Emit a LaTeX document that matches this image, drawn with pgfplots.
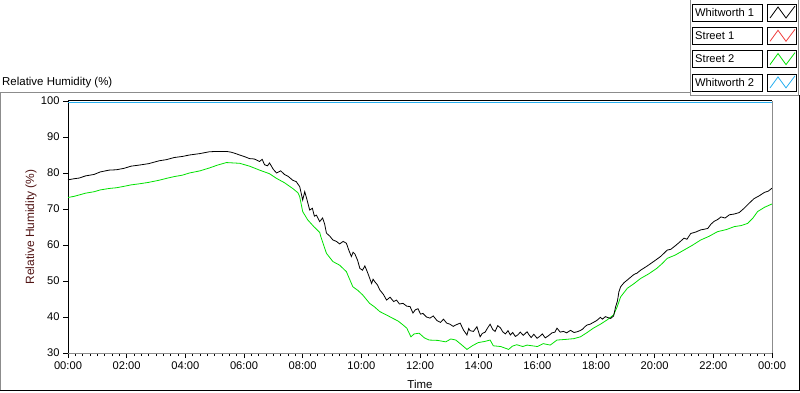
\documentclass[border=0pt]{standalone}
\usepackage{pgfplots}
\pgfplotsset{compat=1.18}
\usepackage{fontspec}
\setmainfont{Liberation Sans}
\definecolor{lvgreen}{RGB}{0,225,0}
\definecolor{lvblue}{RGB}{40,175,240}
\definecolor{lvred}{RGB}{240,60,60}
\definecolor{lvgray}{RGB}{140,140,140}
\definecolor{lvmaroon}{RGB}{80,20,20}

\pgfplotstableread{
t v
0.00 78.1
0.20 78.4
0.38 78.6
0.60 79.2
0.89 79.6
1.10 80.3
1.40 80.8
1.65 80.9
1.91 81.3
2.15 81.9
2.43 82.2
2.75 82.6
3.11 83.4
3.35 83.7
3.62 84.3
3.90 84.6
4.14 85.0
4.50 85.4
4.82 85.9
5.10 86.0
5.40 86.0
5.55 85.8
5.68 85.5
5.85 85.0
6.00 84.6
6.19 84.0
6.35 83.9
6.53 83.2
6.62 83.8
6.70 82.3
6.80 82.0
6.87 82.8
7.00 81.0
7.11 80.0
7.25 80.6
7.38 79.6
7.50 79.1
7.66 78.0
7.78 77.6
7.90 76.2
7.96 74.0
8.00 72.5
8.07 74.8
8.12 73.4
8.24 69.7
8.33 70.2
8.40 68.0
8.47 68.3
8.58 66.5
8.68 67.5
8.75 65.8
8.81 63.3
8.92 62.5
9.03 61.4
9.15 61.0
9.26 60.3
9.38 61.0
9.49 60.5
9.58 58.4
9.66 56.8
9.72 58.0
9.78 57.5
9.87 55.8
9.95 53.5
10.04 53.0
10.12 54.2
10.22 52.2
10.35 49.3
10.40 50.5
10.46 49.8
10.55 48.9
10.63 47.5
10.75 46.3
10.86 44.7
10.98 45.5
11.10 44.3
11.20 44.7
11.30 43.6
11.42 43.8
11.55 43.0
11.66 42.9
11.76 41.1
11.84 42.0
11.93 42.3
12.02 40.8
12.10 41.0
12.22 40.0
12.34 39.7
12.45 40.3
12.58 39.0
12.70 38.5
12.80 39.4
12.91 38.3
13.02 38.0
13.13 37.4
13.25 37.9
13.37 38.3
13.48 36.4
13.60 35.0
13.66 36.8
13.71 36.2
13.82 36.0
13.94 37.3
14.05 34.5
14.12 35.4
14.22 35.8
14.30 36.9
14.39 38.0
14.48 36.5
14.56 36.0
14.65 37.6
14.74 37.0
14.82 35.9
14.91 35.3
15.00 36.2
15.08 35.0
15.16 35.7
15.25 34.6
15.33 35.0
15.42 35.8
15.52 34.9
15.65 35.9
15.72 35.0
15.79 34.3
15.88 35.2
15.99 34.1
16.08 34.6
16.17 35.3
16.27 34.2
16.38 34.8
16.50 35.6
16.60 35.8
16.67 36.9
16.78 35.8
16.89 36.0
17.00 35.6
17.13 36.3
17.25 35.7
17.36 35.9
17.45 36.2
17.54 36.6
17.62 37.3
17.70 37.8
17.80 38.0
17.91 38.5
18.02 39.0
18.15 39.9
18.22 39.4
18.32 40.1
18.42 39.8
18.50 39.6
18.60 40.3
18.67 42.9
18.73 44.4
18.78 47.0
18.84 48.4
18.95 49.5
19.10 50.5
19.29 51.8
19.40 52.2
19.52 53.0
19.75 54.2
19.98 55.5
20.20 56.8
20.43 58.6
20.55 58.8
20.72 59.9
20.85 60.8
21.00 61.9
21.10 61.6
21.23 63.2
21.40 63.6
21.57 64.2
21.70 64.4
21.81 64.6
21.92 65.8
22.03 66.6
22.15 67.1
22.26 67.8
22.40 67.5
22.55 68.4
22.71 68.6
22.88 69.0
23.05 70.2
23.22 71.6
23.39 72.9
23.55 73.6
23.74 74.6
23.88 75.0
24.00 75.8
}\whitworthA

\pgfplotstableread{
t v
0.00 73.2
0.20 73.5
0.38 73.9
0.60 74.4
0.89 74.8
1.10 75.3
1.40 75.7
1.65 75.9
1.91 76.3
2.15 76.7
2.43 77.0
2.75 77.4
3.11 78.0
3.35 78.5
3.62 79.0
3.90 79.4
4.14 80.0
4.50 80.6
4.82 81.4
5.10 82.2
5.40 82.9
5.85 82.7
6.19 81.9
6.53 80.8
6.87 79.8
7.11 78.5
7.38 77.3
7.66 75.7
7.84 74.5
7.90 73.4
8.00 69.3
8.17 67.0
8.38 65.1
8.58 63.5
8.62 62.3
8.81 57.7
9.03 55.4
9.26 54.4
9.49 52.6
9.60 50.5
9.71 48.4
9.88 47.4
10.05 46.1
10.28 43.8
10.45 42.8
10.63 41.5
10.85 40.6
11.08 39.6
11.25 38.9
11.42 37.8
11.55 36.9
11.69 34.5
11.80 35.3
11.97 35.5
12.15 34.2
12.31 33.6
12.60 33.5
12.88 33.1
13.05 33.9
13.22 33.6
13.40 32.4
13.60 31.0
13.80 32.1
13.99 32.9
14.20 33.2
14.39 33.6
14.50 32.0
14.75 31.8
15.02 31.0
15.15 31.9
15.30 32.3
15.50 31.8
15.65 32.2
16.00 31.8
16.20 32.6
16.44 32.2
16.67 33.6
17.00 33.8
17.25 34.0
17.47 34.5
17.70 35.7
17.91 36.9
18.15 38.0
18.38 39.2
18.60 40.6
18.72 42.8
18.84 45.6
19.07 48.0
19.30 49.3
19.52 50.7
19.80 52.0
20.07 53.5
20.25 54.8
20.43 56.3
20.70 57.2
21.00 58.6
21.30 60.0
21.57 61.4
21.85 62.4
22.14 63.7
22.45 64.3
22.71 65.1
22.95 65.4
23.17 66.0
23.35 67.5
23.51 69.3
23.75 70.5
24.00 71.4
}\streetB

\pgfplotstableread{
t v
0 99.55
24 99.55
}\whitworthB

\begin{document}
\begin{tikzpicture}[x=1bp,y=1bp]
\useasboundingbox (0,0) rectangle (800,392);
% outer frame
\draw[lvgray,line width=1bp] (0,299.3) -- (690,299.3);
\draw[lvgray,line width=1bp] (0.5,299.3) -- (0.5,1.5);
\draw[black,line width=1bp] (0,1.5) -- (799.5,1.5) -- (799.5,297);
% legend panel frame
\draw[lvgray,line width=1bp] (690,392) -- (690,297) -- (798,297) -- (798,392);

\node[anchor=west,inner sep=0pt,font=\fontsize{11.5}{13}\selectfont] at (2,309) {Relative Humidity (\%)};

\begin{axis}[
  at={(68bp,39bp)}, anchor=south west,
  scale only axis, width=704bp, height=252bp,
  xmin=0, xmax=24, ymin=30, ymax=100,
  axis x line=bottom, axis y line=left,
  axis line style={-},
  x axis line style={lvgray,line width=1bp},
  y axis line style={black,line width=1bp},
  xtick={0,2,...,24},
  xticklabels={00:00,02:00,04:00,06:00,08:00,10:00,12:00,14:00,16:00,18:00,20:00,22:00,00:00},
  minor x tick num=7,
  ytick={30,40,...,100},
  yticklabels={30,40,50,60,70,80,90,100},
  tick align=outside,
  major tick length=5bp, minor tick length=3bp,
  every tick/.style={black,line width=0.8bp},
  tick label style={font=\fontsize{11.2}{13}\selectfont},
  clip=false,
]
\addplot[lvblue,line width=0.9bp] table[x=t,y=v] {\whitworthB};
\addplot[lvgreen,line width=0.8bp] table[x=t,y=v] {\streetB};
\addplot[black,line width=0.8bp] table[x=t,y=v] {\whitworthA};
\draw[black,line width=0.9bp] ([yshift=0.3bp]rel axis cs:0,1) -- ([yshift=0.3bp]rel axis cs:1,1);
\draw[lvgray,line width=1bp] (rel axis cs:1,0) -- (rel axis cs:1,1);
\end{axis}

\node[rotate=90,text=lvmaroon,font=\fontsize{12}{14}\selectfont] at (31,165) {Relative Humidity (\%)};
\node[font=\fontsize{11.5}{13}\selectfont] at (420,8) {Time};

% legend
\foreach \ttop/\name/\col in {388/Whitworth 1/black, 364.7/Street 1/lvred, 341.4/Street 2/lvgreen, 318.1/Whitworth 2/lvblue}{
  \draw[black,line width=0.8bp] (692.7,\ttop) rectangle (762.7,\ttop-17);
  \node[anchor=west,inner sep=0pt,font=\fontsize{11.2}{13}\selectfont] at (695,\ttop-8.5) {\name};
  \draw[black,line width=0.8bp] (767,\ttop) rectangle (796.7,\ttop-17);
  \draw[\col,line width=0.8bp] (770,\ttop-14) -- (778,\ttop-3) -- (786,\ttop-14) -- (795,\ttop-2);
}
\end{tikzpicture}
\end{document}
